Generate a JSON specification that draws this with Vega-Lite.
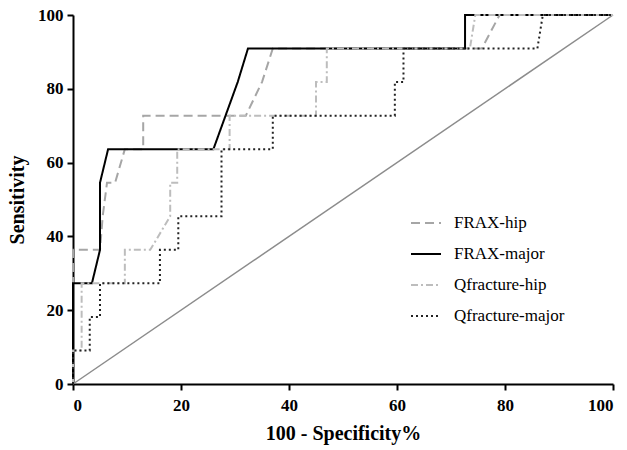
{
  "$schema": "https://vega.github.io/schema/vega-lite/v6.json",
  "width": 540,
  "height": 369,
  "autosize": {"type": "none"},
  "padding": {"left": 73, "top": 15, "right": 14, "bottom": 66},
  "background": "white",
  "config": {
    "view": {"stroke": null},
    "axis": {
      "grid": false,
      "domainColor": "black",
      "domainWidth": 2,
      "tickColor": "black",
      "tickWidth": 2,
      "tickSize": 6,
      "labelFont": "Liberation Serif",
      "labelFontWeight": "bold",
      "labelFontSize": 17,
      "labelColor": "black",
      "titleFont": "Liberation Serif",
      "titleFontWeight": "bold",
      "titleFontSize": 20,
      "titleColor": "black"
    }
  },
  "datasets": {
    "curves": [
      {"series": "FRAX-hip", "i": 0, "x": 0, "y": 0},
      {"series": "FRAX-hip", "i": 1, "x": 0, "y": 36.36},
      {"series": "FRAX-hip", "i": 2, "x": 5, "y": 36.36},
      {"series": "FRAX-hip", "i": 3, "x": 5.5, "y": 45.45},
      {"series": "FRAX-hip", "i": 4, "x": 6.3, "y": 54.55},
      {"series": "FRAX-hip", "i": 5, "x": 7.8, "y": 54.55},
      {"series": "FRAX-hip", "i": 6, "x": 9.6, "y": 63.64},
      {"series": "FRAX-hip", "i": 7, "x": 13, "y": 63.64},
      {"series": "FRAX-hip", "i": 8, "x": 13, "y": 72.73},
      {"series": "FRAX-hip", "i": 9, "x": 32, "y": 72.73},
      {"series": "FRAX-hip", "i": 10, "x": 35, "y": 81.82},
      {"series": "FRAX-hip", "i": 11, "x": 37, "y": 90.91},
      {"series": "FRAX-hip", "i": 12, "x": 75.7, "y": 90.91},
      {"series": "FRAX-hip", "i": 13, "x": 79, "y": 100},
      {"series": "FRAX-hip", "i": 14, "x": 100, "y": 100},

      {"series": "FRAX-major", "i": 0, "x": 0, "y": 0},
      {"series": "FRAX-major", "i": 1, "x": 0, "y": 27.27},
      {"series": "FRAX-major", "i": 2, "x": 3.5, "y": 27.27},
      {"series": "FRAX-major", "i": 3, "x": 5, "y": 36.36},
      {"series": "FRAX-major", "i": 4, "x": 5, "y": 54.55},
      {"series": "FRAX-major", "i": 5, "x": 6.5, "y": 63.64},
      {"series": "FRAX-major", "i": 6, "x": 26, "y": 63.64},
      {"series": "FRAX-major", "i": 7, "x": 30.5, "y": 81.82},
      {"series": "FRAX-major", "i": 8, "x": 32.4, "y": 90.91},
      {"series": "FRAX-major", "i": 9, "x": 72.6, "y": 90.91},
      {"series": "FRAX-major", "i": 10, "x": 72.6, "y": 100},
      {"series": "FRAX-major", "i": 11, "x": 100, "y": 100},

      {"series": "Qfracture-hip", "i": 0, "x": 0, "y": 0},
      {"series": "Qfracture-hip", "i": 1, "x": 0, "y": 9.09},
      {"series": "Qfracture-hip", "i": 2, "x": 1.6, "y": 9.09},
      {"series": "Qfracture-hip", "i": 3, "x": 1.6, "y": 27.27},
      {"series": "Qfracture-hip", "i": 4, "x": 9.6, "y": 27.27},
      {"series": "Qfracture-hip", "i": 5, "x": 9.6, "y": 36.36},
      {"series": "Qfracture-hip", "i": 6, "x": 14.3, "y": 36.36},
      {"series": "Qfracture-hip", "i": 7, "x": 18, "y": 45.45},
      {"series": "Qfracture-hip", "i": 8, "x": 18, "y": 54.55},
      {"series": "Qfracture-hip", "i": 9, "x": 19.3, "y": 54.55},
      {"series": "Qfracture-hip", "i": 10, "x": 19.3, "y": 63.64},
      {"series": "Qfracture-hip", "i": 11, "x": 29, "y": 63.64},
      {"series": "Qfracture-hip", "i": 12, "x": 29, "y": 72.73},
      {"series": "Qfracture-hip", "i": 13, "x": 45, "y": 72.73},
      {"series": "Qfracture-hip", "i": 14, "x": 45, "y": 81.82},
      {"series": "Qfracture-hip", "i": 15, "x": 47, "y": 81.82},
      {"series": "Qfracture-hip", "i": 16, "x": 47, "y": 90.91},
      {"series": "Qfracture-hip", "i": 17, "x": 73.5, "y": 90.91},
      {"series": "Qfracture-hip", "i": 18, "x": 74.5, "y": 100},
      {"series": "Qfracture-hip", "i": 19, "x": 100, "y": 100},

      {"series": "Qfracture-major", "i": 0, "x": 0, "y": 0},
      {"series": "Qfracture-major", "i": 1, "x": 0, "y": 9.09},
      {"series": "Qfracture-major", "i": 2, "x": 3.1, "y": 9.09},
      {"series": "Qfracture-major", "i": 3, "x": 3.1, "y": 18.18},
      {"series": "Qfracture-major", "i": 4, "x": 5, "y": 18.18},
      {"series": "Qfracture-major", "i": 5, "x": 5, "y": 27.27},
      {"series": "Qfracture-major", "i": 6, "x": 16.1, "y": 27.27},
      {"series": "Qfracture-major", "i": 7, "x": 16.1, "y": 36.36},
      {"series": "Qfracture-major", "i": 8, "x": 19.5, "y": 36.36},
      {"series": "Qfracture-major", "i": 9, "x": 19.5, "y": 45.45},
      {"series": "Qfracture-major", "i": 10, "x": 27.5, "y": 45.45},
      {"series": "Qfracture-major", "i": 11, "x": 27.5, "y": 63.64},
      {"series": "Qfracture-major", "i": 12, "x": 37, "y": 63.64},
      {"series": "Qfracture-major", "i": 13, "x": 37, "y": 72.73},
      {"series": "Qfracture-major", "i": 14, "x": 59.6, "y": 72.73},
      {"series": "Qfracture-major", "i": 15, "x": 59.6, "y": 81.82},
      {"series": "Qfracture-major", "i": 16, "x": 61.2, "y": 81.82},
      {"series": "Qfracture-major", "i": 17, "x": 61.2, "y": 90.91},
      {"series": "Qfracture-major", "i": 18, "x": 86, "y": 90.91},
      {"series": "Qfracture-major", "i": 19, "x": 87, "y": 100},
      {"series": "Qfracture-major", "i": 20, "x": 100, "y": 100}
    ],
    "diag": [
      {"x": 0, "y": 0},
      {"x": 100, "y": 100}
    ]
  },
  "layer": [
    {
      "data": {"name": "diag"},
      "mark": {"type": "line", "color": "#8c8c8c", "strokeWidth": 1.5},
      "encoding": {
        "x": {"field": "x", "type": "quantitative", "scale": {"domain": [0, 100], "nice": false}, "axis": {"values": [0, 20, 40, 60, 80, 100], "title": "100 - Specificity%", "titlePadding": 10, "labelPadding": 7}},
        "y": {"field": "y", "type": "quantitative", "scale": {"domain": [0, 100], "nice": false}, "axis": {"values": [0, 20, 40, 60, 80, 100], "title": "Sensitivity", "titlePadding": 10, "labelPadding": 4}}
      }
    },
    {
      "data": {"name": "curves"},
      "mark": {"type": "line", "strokeWidth": 2, "clip": false},
      "encoding": {
        "x": {"field": "x", "type": "quantitative"},
        "y": {"field": "y", "type": "quantitative"},
        "order": {"field": "i", "type": "quantitative"},
        "color": {
          "field": "series", "type": "nominal",
          "scale": {"domain": ["FRAX-hip", "FRAX-major", "Qfracture-hip", "Qfracture-major"], "range": ["#a6a6a6", "#000000", "#bdbdbd", "#222222"]},
          "legend": {
            "title": null,
            "orient": "none",
            "legendX": 337,
            "legendY": 192,
            "symbolType": "stroke",
            "symbolSize": 900,
            "symbolStrokeWidth": 2,
            "labelFont": "Liberation Serif",
            "labelFontSize": 17,
            "labelColor": "black",
            "labelOffset": 12,
            "rowPadding": 7
          }
        },
        "strokeDash": {
          "field": "series", "type": "nominal",
          "scale": {"domain": ["FRAX-hip", "FRAX-major", "Qfracture-hip", "Qfracture-major"], "range": [[9, 5], [1, 0], [7, 3, 2, 3], [2, 3]]},
          "legend": {
            "title": null,
            "orient": "none",
            "legendX": 337,
            "legendY": 192,
            "symbolType": "stroke",
            "symbolSize": 900,
            "symbolStrokeWidth": 2,
            "labelFont": "Liberation Serif",
            "labelFontSize": 17,
            "labelColor": "black",
            "labelOffset": 12,
            "rowPadding": 7
          }
        }
      }
    }
  ]
}
